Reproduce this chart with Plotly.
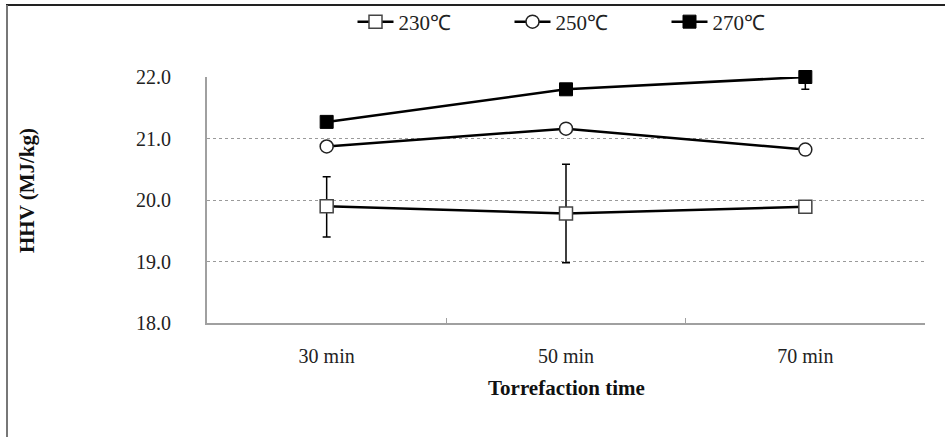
import plotly.graph_objects as go

categories = ["30 min", "50 min", "70 min"]
hhv_230 = [19.9, 19.78, 19.89]
err_230_plus = [0.48, 0.8, 0.0]
err_230_minus = [0.5, 0.8, 0.0]
hhv_250 = [20.87, 21.16, 20.82]
hhv_270 = [21.27, 21.8, 22.0]
err_270_plus = [0.0, 0.0, 0.0]
err_270_minus = [0.0, 0.0, 0.2]
series_names = ["230℃", "250℃", "270℃"]
y_ticks = [18, 19, 20, 21, 22]

FONT = "Liberation Serif"

fig = go.Figure()
fig.add_trace(go.Scatter(
    x=categories, y=hhv_230, name=series_names[0], mode="lines+markers",
    line=dict(color="black", width=2.5),
    marker=dict(symbol="square", size=13, color="white", line=dict(color="#444", width=1.5)),
    error_y=dict(type="data", symmetric=False, array=err_230_plus, arrayminus=err_230_minus,
                 color="black", thickness=1.5, width=4),
    cliponaxis=False,
))
fig.add_trace(go.Scatter(
    x=categories, y=hhv_250, name=series_names[1], mode="lines+markers",
    line=dict(color="black", width=2.5),
    marker=dict(symbol="circle", size=13, color="white", line=dict(color="#222", width=1.5)),
    cliponaxis=False,
))
fig.add_trace(go.Scatter(
    x=categories, y=hhv_270, name=series_names[2], mode="lines+markers",
    line=dict(color="black", width=2.5),
    marker=dict(symbol="square", size=13, color="black", line=dict(color="black", width=1)),
    error_y=dict(type="data", symmetric=False, array=err_270_plus, arrayminus=err_270_minus,
                 color="black", thickness=1.5, width=4),
    cliponaxis=False,
))

W, H = 945, 437
L, R, T, B = 207, 20, 77, 114
pw, ph = W - L - R, H - T - B

def px(x):
    return (x - L) / pw

def py(y):
    return (H - B - y) / ph

shapes = [
    dict(type="line", xref="paper", yref="paper", x0=px(6), x1=px(945), y0=py(5), y1=py(5),
         line=dict(color="#222", width=2)),
    dict(type="line", xref="paper", yref="paper", x0=px(7), x1=px(7), y0=py(5), y1=py(437),
         line=dict(color="#777", width=2)),
]

annotations = [
    dict(text="<b>HHV (MJ/kg)</b>", xref="paper", yref="paper", x=px(27), y=py(191),
         textangle=-90, showarrow=False, xanchor="center", yanchor="middle",
         font=dict(family=FONT, size=21, color="#111")),
    dict(text="<b>Torrefaction time</b>", xref="paper", yref="paper", x=px(566), y=py(388),
         showarrow=False, xanchor="center", yanchor="middle",
         font=dict(family=FONT, size=21, color="#111")),
]

fig.update_layout(
    width=W, height=H,
    margin=dict(l=L, r=R, t=T, b=B, pad=0),
    paper_bgcolor="white", plot_bgcolor="white",
    font=dict(family=FONT, size=20, color="#222"),
    showlegend=True,
    legend=dict(orientation="h", x=0.5 + 22 / pw, xanchor="center", xref="paper",
                y=1 - 22 / H, yanchor="middle", yref="container",
                font=dict(family=FONT, size=21, color="#222"),
                entrywidth=106, entrywidthmode="pixels",
                itemwidth=36, bgcolor="rgba(0,0,0,0)"),
    xaxis=dict(
        type="category", range=[-0.5, 2.5],
        showline=True, linecolor="#a0a0a0", linewidth=2,
        ticks="inside", ticklen=5, tickcolor="#a0a0a0", tickwidth=1,
        tickson="boundaries", showgrid=False, zeroline=False,
        ticklabelstandoff=14,
        tickfont=dict(family=FONT, size=20, color="#222"),
        automargin=False,
    ),
    yaxis=dict(
        range=[18, 22], tickvals=y_ticks, ticktext=[f"{v:.1f}" for v in y_ticks],
        showline=True, linecolor="#a0a0a0", linewidth=2,
        ticks="", ticklabelstandoff=30,
        showgrid=True, gridcolor="#9a9a9a", griddash="dot", gridwidth=1,
        zeroline=False,
        tickfont=dict(family=FONT, size=20, color="#222"),
        automargin=False,
    ),
    shapes=shapes,
    annotations=annotations,
)

fig.write_html("out.html", config={"displayModeBar": False},
               post_script="document.body.style.margin='0';document.body.style.overflow='hidden';")
